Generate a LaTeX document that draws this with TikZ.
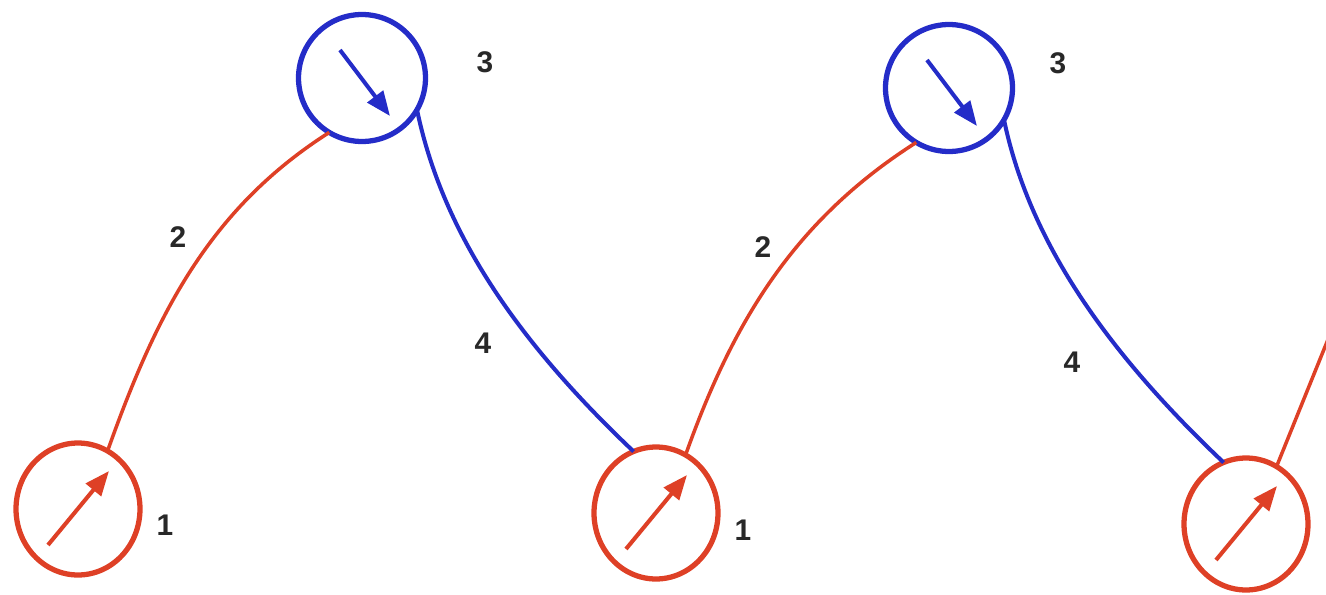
\documentclass[tikz,border=0pt]{standalone}
\usepackage{fontspec}
\setmainfont{Liberation Sans}
\usetikzlibrary{arrows.meta,shapes.geometric,calc}
\definecolor{spinred}{RGB}{222,64,38}
\definecolor{spinblue}{RGB}{36,44,200}
\definecolor{numgray}{RGB}{40,40,40}
\begin{document}
\begin{tikzpicture}[
  x=0.02cm,y=-0.02cm,
  every node/.style={inner sep=0pt,outer sep=0pt},
  redc/.style={ellipse,draw=spinred,line width=3pt,
    minimum width=2.48cm,minimum height=2.64cm},
  bluec/.style={circle,draw=spinblue,line width=3pt,minimum size=2.54cm},
  redarr/.style={spinred,line width=2.3pt,-{Triangle[length=14pt,width=11pt]}},
  bluearr/.style={spinblue,line width=2.3pt,-{Triangle[length=14pt,width=11pt]}},
  redln/.style={spinred,line width=2pt},
  blueln/.style={spinblue,line width=2.3pt},
  num/.style={font=\fontsize{17}{20}\selectfont\bfseries,text=numgray},
]
\useasboundingbox (0,0) rectangle (1326,595);

\node[redc](R1)at(78,509){};
\node[bluec](B1)at(362,78){};
\node[redc](R2)at(656,513){};
\node[bluec](B2)at(949,88){};
\node[redc](R3)at(1246,524){};
\coordinate(E3)at(1331,332);

\draw[redarr]($(R1)+(-30,36)$)--($(R1)+(31,-38)$);
\draw[redarr]($(R2)+(-30,36)$)--($(R2)+(31,-38)$);
\draw[redarr]($(R3)+(-30,36)$)--($(R3)+(31,-38)$);
\draw[bluearr]($(B1)+(-22,-28)$)--($(B1)+(28,38)$);
\draw[bluearr]($(B2)+(-22,-28)$)--($(B2)+(28,38)$);

\draw[redln](R1.63) .. controls +(48,-135) and +(-121,77) .. (B1.239);
\draw[blueln](B1.-30) .. controls +(23,110) and +(-130,-123) .. (R2.110);
\draw[redln](R2.63) .. controls +(48,-135) and +(-121,77) .. (B2.239);
\draw[blueln](B2.-30) .. controls +(23,110) and +(-130,-123) .. (R3.110);
\draw[redln](R3.62)--(E3);

\node[num](N1a)at(165,525){1};
\node[num](N2a)at(178,237){2};
\node[num](N3a)at(485,62){3};
\node[num](N4a)at(483,343){4};
\node[num](N1b)at(743,530){1};
\node[num](N2b)at(763,247){2};
\node[num](N3b)at(1058,63){3};
\node[num](N4b)at(1072,362){4};
\end{tikzpicture}
\end{document}
